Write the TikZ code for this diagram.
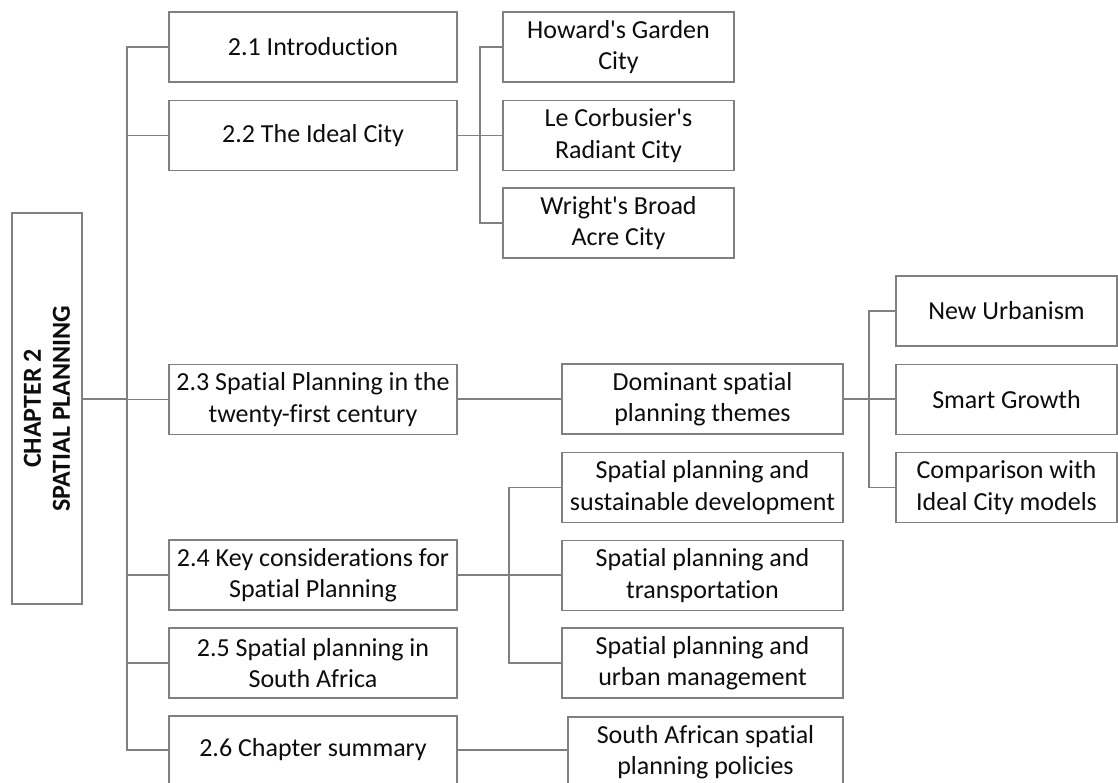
\documentclass[tikz,border=0pt]{standalone}
\usepackage{fontspec}
\setmainfont{Carlito}[Ligatures={NoCommon}]
\definecolor{linec}{RGB}{128,128,128}
\definecolor{txt}{RGB}{13,13,13}
\newcommand{\apos}{\textquotesingle}
\begin{document}
\begin{tikzpicture}[x=1pt,y=-1pt,
  box/.style={draw=linec, line width=1.6pt, fill=white, text=txt, align=center,
    inner sep=1pt, font=\fontsize{26}{31.5}\selectfont},
  sec/.style={box, minimum width=288pt, minimum height=70pt},
  sub/.style={box, minimum width=231pt, minimum height=70pt},
  mid/.style={box, minimum width=281pt, minimum height=70pt},
  far/.style={box, minimum width=221pt, minimum height=70pt},
  link/.style={draw=linec, line width=1.6pt}]
\useasboundingbox (0,0) rectangle (1118,783);

% chapter box
\node[box, minimum width=70pt, minimum height=391pt] (ch) at (47,408.5) {};
\node[rotate=90, text=txt, align=center, font=\bfseries\fontsize{26}{29}\selectfont] (chlabel) at (ch.center) {CHAPTER 2\\SPATIAL PLANNING};

% sections
\node[sec] (s21) at (313,47) {2.1 Introduction};
\node[sec] (s22) at (313,135.5) {2.2 The Ideal City};
\node[sec] (s23) at (313,399.5) {2.3 Spatial Planning in the\\twenty-first century};
\node[sec] (s24) at (313,575) {2.4 Key considerations for\\Spatial Planning};
\node[sec] (s25) at (313,663) {2.5 Spatial planning in\\South Africa};
\node[sec, minimum height=68pt] (s26) at (313,750) {2.6 Chapter summary};

% ideal city models
\node[sub] (howard) at (618.5,47) {Howard\apos s Garden\\City};
\node[sub] (corb) at (618.5,135.5) {Le Corbusier\apos s\\Radiant City};
\node[sub] (wright) at (618.5,223) {Wright\apos s Broad\\Acre City};

% second level
\node[mid] (dom) at (702.5,399) {Dominant spatial\\planning themes};
\node[mid] (sust) at (702.5,487.5) {Spatial planning and\\sustainable development};
\node[mid] (trans) at (702.5,575.5) {Spatial planning and\\transportation};
\node[mid] (urban) at (702.5,663) {Spatial planning and\\urban management};
\node[box, minimum width=275pt, minimum height=70pt] (sa) at (705.5,752) {South African spatial\\planning policies};

% themes
\node[far] (newu) at (1006.5,311) {New Urbanism};
\node[far] (smart) at (1006.5,399.5) {Smart Growth};
\node[far] (comp) at (1006.5,487.5) {Comparison with\\Ideal City models};

% trunk positions
\coordinate (t1) at (127,0);
\coordinate (t2) at (480,0);
\coordinate (t3) at (869,0);
\coordinate (t4) at (509,0);

% main trunk
\draw[link] (s21.west) -- (s21.west -| t1) -- (s26.west -| t1) -- (s26.west);
\draw[link] (s22.west) -- (s22.west -| t1);
\draw[link] (s23.west) -- (s23.west -| t1);
\draw[link] (s24.west) -- (s24.west -| t1);
\draw[link] (s25.west) -- (s25.west -| t1);
\draw[link] (ch.east |- dom.west) -- (t1 |- dom.west);

% ideal city branch
\draw[link] (s22.east) -- (corb.west);
\draw[link] (howard.west) -- (howard.west -| t2) -- (wright.west -| t2) -- (wright.west);

% twenty-first century branch
\draw[link] (s23.east |- dom.west) -- (dom.west);
\draw[link] (dom.east) -- (smart.west |- dom.east);
\draw[link] (newu.west) -- (newu.west -| t3) -- (comp.west -| t3) -- (comp.west);

% key considerations branch
\draw[link] (s24.east) -- (trans.west |- s24.east);
\draw[link] (sust.west) -- (sust.west -| t4) -- (urban.west -| t4) -- (urban.west);

% summary branch
\draw[link] (s26.east) -- (s26.east -| sa.west);
\end{tikzpicture}
\end{document}
